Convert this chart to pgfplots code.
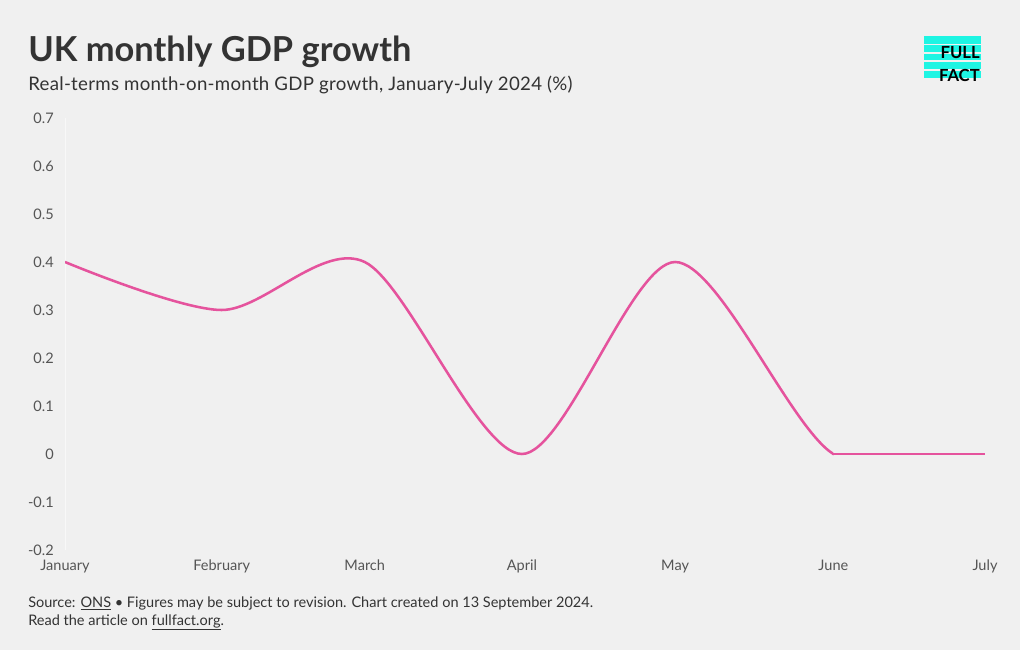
\documentclass[border=0pt]{standalone}
\usepackage{pgfplots}
\pgfplotsset{compat=1.18}
\usepackage{fontspec}
\setmainfont{Lato}
\definecolor{bg}{HTML}{F0F0F0}
\definecolor{pinkline}{HTML}{E5539D}
\definecolor{titlec}{HTML}{333333}
\definecolor{tickc}{HTML}{555555}
\definecolor{logoc}{HTML}{1EF5E3}
\begin{document}
\begin{tikzpicture}[x=0.75pt,y=0.75pt]
\fill[bg] (0,0) rectangle (1020,650);
% title and subtitle
\node[anchor=base west, inner sep=0pt, text=titlec, font=\fontsize{25.8}{30}\selectfont\bfseries] at (28,588) {UK monthly GDP growth};
\node[anchor=base west, inner sep=0pt, text=titlec, font=\fontsize{14}{16}\selectfont\addfontfeatures{LetterSpace=1.5}] at (28,559) {Real-terms month-on-month GDP growth, January-July 2024 (\%)};
% footer
\node[anchor=base west, inner sep=0pt, text=titlec, font=\fontsize{10.9}{13}\selectfont] at (28,43) {Source: \underline{ONS} \textbullet{} Figures may be subject to revision. Chart created on 13 September 2024.};
\node[anchor=base west, inner sep=0pt, text=titlec, font=\fontsize{10.9}{13}\selectfont] at (28,25) {Read the article on \underline{fullfact.org}.};
% logo
\fill[logoc] (924,614) rectangle (981,606);
\fill[logoc] (924,604.5) rectangle (981,597.5);
\fill[logoc] (924,596) rectangle (981,590);
\fill[logoc] (924,588) rectangle (981,580.5);
\fill[logoc] (924,579) rectangle (981,572);
\node[anchor=base east, inner sep=0pt, font=\fontsize{12.5}{14}\selectfont\bfseries] at (980,591) {FULL};
\node[anchor=base east, inner sep=0pt, font=\fontsize{12.5}{14}\selectfont\bfseries] at (980,568) {FACT};
\begin{axis}[
  at={(48.75pt,75pt)}, anchor=south west,
  width=690pt, height=324pt, scale only axis,
  xmin=0, xmax=182, ymin=-0.2, ymax=0.7,
  xtick={0,31,59.3,90.4,120.7,152,182},
  xticklabels={January,February,March,April,May,June,July},
  ytick={-0.2,-0.1,0,0.1,0.2,0.3,0.4,0.5,0.6,0.7},
  yticklabels={-0.2,-0.1,0,0.1,0.2,0.3,0.4,0.5,0.6,0.7},
  axis line style={draw=none},
  major tick length=0pt,
  tick label style={font=\fontsize{10.9}{12}\selectfont, text=tickc},
  yticklabel style={anchor=east, inner sep=0pt, xshift=-8.25pt},
  xticklabel style={anchor=base, inner sep=0pt, yshift=-15pt},
  /pgf/number format/assume math mode=true,
]
\draw[white!55!bg, line width=0.75pt] (axis cs:0,-0.2) -- (axis cs:0,0.7);
\begin{scope}
\clip (axis cs:-5,-0.3) rectangle (axis cs:152,0.8);
\addplot[pinkline, line width=1.9pt, smooth, tension=0.5] coordinates {(0,0.4) (31,0.3) (59.3,0.4) (90.4,0) (120.7,0.4) (152,0) (182,0)};
\end{scope}
\addplot[pinkline, line width=1.9pt] coordinates {(152,0) (182,0)};
\end{axis}
\end{tikzpicture}
\end{document}
